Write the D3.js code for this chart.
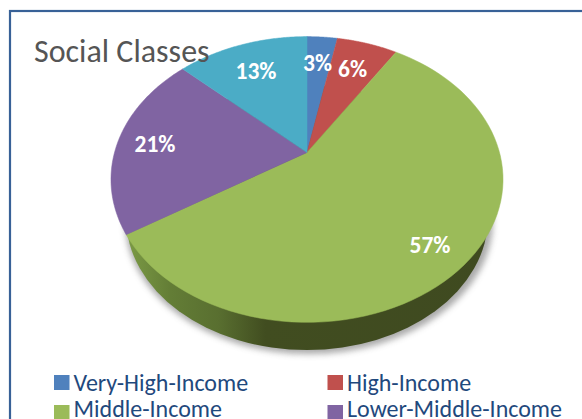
<!DOCTYPE html>
<html><head><meta charset="utf-8">
<script src="https://cdn.jsdelivr.net/npm/d3@7"></script>
<style>html,body{margin:0;padding:0;background:#fff;overflow:hidden}svg{display:block}text{font-family:Carlito,"Open Sans","Noto Sans",sans-serif}</style>
</head><body><div id="c"></div>
<script>
const categories=["Very-High-Income","High-Income","Middle-Income","Lower-Middle-Income","Low-Income"];
const shares=[3,6,57,21,13];
const colors=["#4f81bd","#c0504d","#9bbb59","#8064a2","#4bacc6"];
const legendShown=["Very-High-Income","High-Income","Middle-Income","Lower-Middle-Income"];
const chartTitle="Social Classes";

const W=582,H=419;
const svg=d3.select("#c").append("svg").attr("width",W).attr("height",H);
const defs=svg.append("defs");
const blur=defs.append("filter").attr("id","soft").attr("x","-20%").attr("y","-20%").attr("width","140%").attr("height","140%");
blur.append("feGaussianBlur").attr("stdDeviation",3);
const grad=defs.append("linearGradient").attr("id","wall").attr("gradientUnits","userSpaceOnUse").attr("x1",127).attr("x2",492).attr("y1",0).attr("y2",0);
[[0,"#7b9a45"],[0.12,"#637d36"],[0.25,"#596f30"],[0.38,"#414d20"],[1,"#3f4a20"]].forEach(s=>grad.append("stop").attr("offset",s[0]).attr("stop-color",s[1]));

svg.append("rect").attr("x",10).attr("y",11).attr("width",640).attr("height",460).attr("fill","#fff").attr("stroke","#386197").attr("stroke-width",2.2);

// Perspective view of the disc: the apex sits above the visible ellipse's centre.
const cx=307,apexY=152.5,persp=-0.1888,kx=192.5,ky=109;
const pt=t=>{const x=Math.sin(t),y=-Math.cos(t),d=1+persp*y;return [cx+kx*x/d,(ky*y+apexY)/d];};
const arcs=d3.pie().sort(null).value(d=>d)(shares);
const arcPts=(a,b)=>d3.range(0,81).map(i=>pt(a+(b-a)*i/80));
const line=d3.line();
const wedge=a=>line([[cx,apexY],...arcPts(a.startAngle,a.endAngle)])+"Z";

svg.append("ellipse").attr("cx",cx+2).attr("cy",221).attr("rx",184).attr("ry",133).attr("fill","#555").attr("opacity",0.5).attr("filter","url(#soft)");
svg.append("ellipse").attr("cx",cx).attr("cy",217.7).attr("rx",181).attr("ry",132.3).attr("fill","url(#wall)");

svg.selectAll("path.slice").data(arcs).join("path").attr("class","slice").attr("d",wedge).attr("fill",(d,i)=>colors[i]).attr("stroke",(d,i)=>colors[i]).attr("stroke-width",0.5);

const labelPos=[[317.5,71],[352.5,76.5],[430,253],[155,152],[256,79]];
svg.selectAll("text.pct").data(shares).join("text").attr("class","pct")
 .attr("x",(d,i)=>labelPos[i][0]).attr("y",(d,i)=>labelPos[i][1]).attr("text-anchor","middle")
 .attr("font-size",23.5).attr("font-weight",700).attr("fill","#fff").text(d=>d+"%");

svg.append("text").attr("x",34).attr("y",62).attr("font-size",32).attr("fill","#555").text(chartTitle);

const lx=d3.scalePoint().domain([0,1]).range([54,327.5]);
const ly=d3.scalePoint().domain([0,1]).range([375,405]);
const lt=d3.scalePoint().domain([0,1]).range([391,417]);
const lg=svg.selectAll("g.lg").data(legendShown).join("g").attr("class","lg");
lg.append("rect").attr("x",(d,i)=>lx(i%2)).attr("y",(d,i)=>ly(Math.floor(i/2))).attr("width",15.5).attr("height",15).attr("fill",d=>colors[categories.indexOf(d)]);
lg.append("text").attr("x",(d,i)=>lx(i%2)+19.5).attr("y",(d,i)=>lt(Math.floor(i/2))).attr("font-size",24).attr("fill","#1f497d").text(d=>d);
</script></body></html>
